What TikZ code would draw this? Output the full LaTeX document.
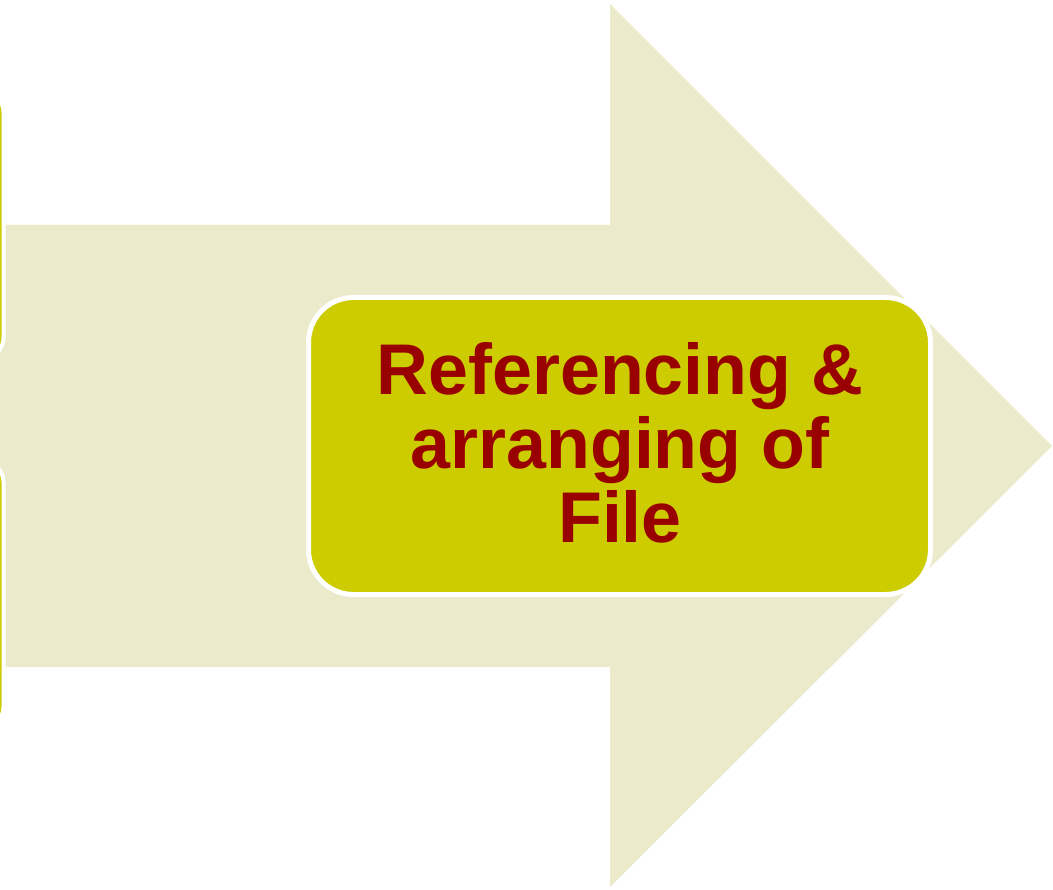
\documentclass[tikz,border=0pt]{standalone}
\usepackage{fontspec}
\setmainfont{Liberation Sans}
\definecolor{beigec}{HTML}{EBEBCB}
\definecolor{boxc}{HTML}{CCCC00}
\definecolor{textc}{HTML}{990000}
\begin{document}
\begin{tikzpicture}[x=1pt,y=-1pt,
  stepbox/.style={fill=boxc, draw=white, line width=5pt, rounded corners=45pt},
  sidebox/.style={fill=boxc, draw=white, line width=4pt, rounded corners=20pt}]
\useasboundingbox (0,0) rectangle (1053,890);
\fill[beigec] (0,225) -- (610,225) -- (610,4) -- (1052,446) -- (610,887) -- (610,667) -- (0,667) -- cycle;
\begin{scope}
\clip (0,0) rectangle (1053,890);
\draw[sidebox] (-300,92) rectangle (3.5,358);
\draw[sidebox] (-300,462) rectangle (3.5,727);
\end{scope}
\draw[stepbox] (308.5,297.5) rectangle (930.5,594.5);
\node (t) [text=textc, font=\fontsize{71.8}{74}\selectfont\bfseries, align=center] at (620,443) {Referencing \&\\arranging of\\File};
\end{tikzpicture}
\end{document}
